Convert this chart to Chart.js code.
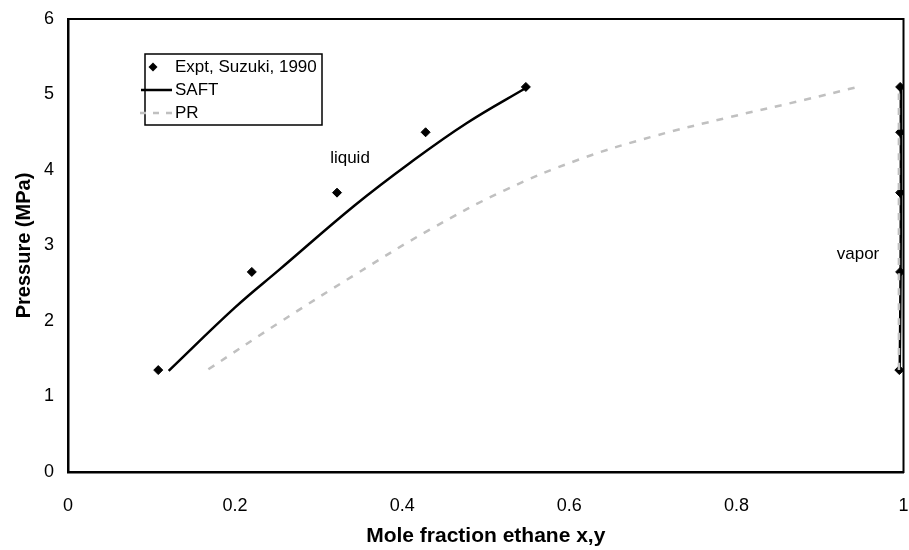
<!DOCTYPE html>
<html>
<head>
<meta charset="utf-8">
<script src="https://cdn.jsdelivr.net/npm/chart.js@4/dist/chart.umd.min.js"></script>
<style>
  body { margin: 0; background: #fff; }
  #wrap { width: 909px; height: 550px; }
</style>
</head>
<body>
<div id="wrap"><canvas id="chart"></canvas></div>
<script>
// experimental points (Suzuki 1990)
const exptLiquidX = [0.108, 0.220, 0.322, 0.428, 0.548];
const exptVaporX = [0.995, 0.996, 0.996, 0.996, 0.996];
const exptP = [1.35, 2.65, 3.70, 4.50, 5.10];

// SAFT curves
const saftLiquidX = [0.1205, 0.20, 0.253, 0.343, 0.410, 0.477, 0.550];
const saftLiquidP = [1.34, 2.18, 2.68, 3.53, 4.10, 4.62, 5.10];
const saftVaporX = [0.9955, 0.9965, 0.9968, 0.9968, 0.9968];
const saftVaporP = [1.35, 2.65, 3.70, 4.50, 5.10];

// PR curves
const prLiquidX = [0.168, 0.253, 0.343, 0.433, 0.5225, 0.612, 0.702, 0.792, 0.882, 0.945];
const prLiquidP = [1.36, 1.98, 2.61, 3.21, 3.73, 4.14, 4.45, 4.70, 4.93, 5.10];
const prVaporX = [0.9945, 0.9945, 0.9945, 0.9945, 0.9945];
const prVaporP = [1.35, 2.65, 3.70, 4.50, 5.10];

const xTicks = [0, 0.2, 0.4, 0.6, 0.8, 1];
const yTicks = [0, 1, 2, 3, 4, 5, 6];

const legendItems = ['Expt, Suzuki, 1990', 'SAFT', 'PR'];

const GREY = '#c0c0c0';
const FONT = 'Liberation Sans, Arial, sans-serif';

const pts = (xs, ys) => xs.map((x, i) => ({x: x, y: ys[i]}));

const lineSet = (data, color, dash) => ({
    data: data,
    showLine: true,
    borderColor: color,
    borderWidth: 2.5,
    borderDash: dash,
    pointRadius: 0,
    tension: 0.4,
    fill: false
});

const markSet = (data) => ({
    data: data,
    showLine: false,
    pointStyle: 'rectRot',
    pointRadius: 4.5,
    pointBackgroundColor: '#000',
    pointBorderColor: '#000',
    pointBorderWidth: 1
});

const extras = {
    id: 'extras',
    afterDraw(chart) {
        const ctx = chart.ctx;
        const a = chart.chartArea;
        ctx.save();
        // plot frame
        ctx.strokeStyle = '#000';
        ctx.lineWidth = 2;
        ctx.strokeRect(a.left, a.top, a.right - a.left, a.bottom - a.top);

        // annotations
        ctx.fillStyle = '#000';
        ctx.font = '17px ' + FONT;
        ctx.textAlign = 'center';
        ctx.textBaseline = 'middle';
        ctx.fillText('liquid', 350, 158);
        ctx.fillText('vapor', 858, 254);

        // legend box
        const lx = 145, ly = 54, lw = 177, lh = 71;
        ctx.fillStyle = '#fff';
        ctx.fillRect(lx, ly, lw, lh);
        ctx.lineWidth = 1.5;
        ctx.strokeRect(lx, ly, lw, lh);
        ctx.font = '17px ' + FONT;
        ctx.textAlign = 'left';
        ctx.fillStyle = '#000';
        const rows = [67, 90, 113];
        legendItems.forEach((t, i) => {
            const y = rows[i];
            if (i === 0) {
                ctx.beginPath();
                ctx.moveTo(153, y - 4.5);
                ctx.lineTo(157.5, y);
                ctx.lineTo(153, y + 4.5);
                ctx.lineTo(148.5, y);
                ctx.closePath();
                ctx.fill();
            } else {
                ctx.beginPath();
                ctx.strokeStyle = i === 1 ? '#000' : GREY;
                ctx.lineWidth = 2.5;
                ctx.setLineDash(i === 1 ? [] : [6, 7]);
                ctx.moveTo(i === 1 ? 141 : 140, y);
                ctx.lineTo(172, y);
                ctx.stroke();
                ctx.setLineDash([]);
            }
            ctx.fillText(t, 175, y);
        });
        ctx.restore();
    }
};

new Chart(document.getElementById('chart'), {
    type: 'scatter',
    data: {
        datasets: [
            lineSet(pts(prLiquidX, prLiquidP), GREY, [7, 8]),
            lineSet(pts(prVaporX, prVaporP), GREY, [7, 8]),
            lineSet(pts(saftLiquidX, saftLiquidP), '#000', []),
            lineSet(pts(saftVaporX, saftVaporP), '#000', []),
            markSet(pts(exptLiquidX, exptP)),
            markSet(pts(exptVaporX, exptP))
        ]
    },
    options: {
        responsive: true,
        maintainAspectRatio: false,
        animation: false,
        layout: { padding: { top: 19, right: 0, left: 0, bottom: 0 } },
        plugins: {
            legend: { display: false },
            tooltip: { enabled: false }
        },
        scales: {
            x: {
                type: 'linear',
                min: 0,
                max: 1,
                afterBuildTicks: (s) => { s.ticks = xTicks.map(v => ({value: v})); },
                afterFit: (s) => { s.height = 78; s.paddingRight = 0; s.paddingLeft = 0; },
                grid: { display: false, drawTicks: true, tickLength: 6, tickColor: '#000', tickWidth: 1.5 },
                border: { display: true, color: '#000', width: 2.5 },
                ticks: {
                    color: '#000',
                    font: { family: FONT, size: 18 },
                    padding: 17,
                    maxRotation: 0,
                    callback: (v) => String(v)
                },
                title: {
                    display: true,
                    text: 'Mole fraction ethane x,y',
                    color: '#000',
                    font: { family: FONT, size: 21, weight: 'bold' },
                    padding: { top: 4, bottom: 1 }
                }
            },
            y: {
                type: 'linear',
                min: 0,
                max: 6,
                afterBuildTicks: (s) => { s.ticks = yTicks.map(v => ({value: v})); },
                afterFit: (s) => { s.width = 68; s.paddingTop = 0; s.paddingBottom = 0; },
                grid: { display: false, drawTicks: true, tickLength: 6, tickColor: '#000', tickWidth: 1.5 },
                border: { display: true, color: '#000', width: 2.5 },
                ticks: {
                    color: '#000',
                    font: { family: FONT, size: 18 },
                    padding: 8
                },
                title: {
                    display: true,
                    text: 'Pressure (MPa)',
                    color: '#000',
                    font: { family: FONT, size: 20, weight: 'bold' },
                    padding: { top: 12, bottom: 4 }
                }
            }
        }
    },
    plugins: [extras]
});
</script>
</body>
</html>
